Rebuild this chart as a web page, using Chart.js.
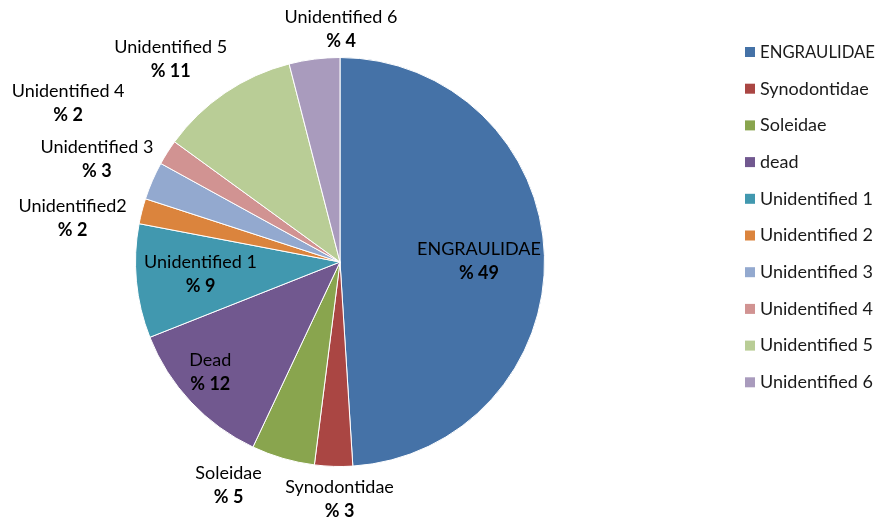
<!DOCTYPE html>
<html>
<head>
<meta charset="utf-8">
<script src="https://cdn.jsdelivr.net/npm/chart.js@4.4.1/dist/chart.umd.min.js"></script>
<style>
  html, body { margin: 0; padding: 0; background: #fff; }
  #wrap { width: 877px; height: 519px; position: relative; }
</style>
</head>
<body>
<div id="wrap"><canvas id="pie"></canvas></div>
<script>
// Slice data (percent)
const legendLabels = ['ENGRAULIDAE', 'Synodontidae', 'Soleidae', 'dead', 'Unidentified 1',
    'Unidentified 2', 'Unidentified 3', 'Unidentified 4', 'Unidentified 5', 'Unidentified 6'];
const sliceLabels = ['ENGRAULIDAE', 'Synodontidae', 'Soleidae', 'Dead', 'Unidentified 1',
    'Unidentified2', 'Unidentified 3', 'Unidentified 4', 'Unidentified 5', 'Unidentified 6'];
const percents = [49, 3, 5, 12, 9, 2, 3, 2, 11, 4];

const sliceColors = ['#4572A7', '#AA4643', '#89A54E', '#71588F', '#4198AF',
    '#DB843D', '#93A9CF', '#D19392', '#B9CD96', '#A99BBD'];

// label placement: distance along the slice middle (x radius) plus a small nudge in px
const labelDist = [0.68, 1.16, 1.2, 0.83, 0.685, 1.32, 1.29, 1.54, 1.29, 1.13];
const labelNudge = [[0, 4], [7, 0], [-43, -12], [-6, -6], [0, -1],
    [-6, 23], [-1, 2], [-6, 10], [-21, 15], [30, -4]];

const FONT = 'Lato, "Open Sans", sans-serif';

// draws the name / percent text next to each slice
const sliceLabelPlugin = {
    id: 'sliceLabels',
    afterDatasetsDraw(chart) {
        const ctx = chart.ctx;
        const arcs = chart.getDatasetMeta(0).data;
        ctx.save();
        ctx.textAlign = 'center';
        ctx.textBaseline = 'middle';
        ctx.fillStyle = '#000';
        arcs.forEach((arc, i) => {
            const mid = (arc.startAngle + arc.endAngle) / 2;
            const r = arc.outerRadius * labelDist[i];
            const x = arc.x + Math.cos(mid) * r + labelNudge[i][0];
            const y = arc.y + Math.sin(mid) * r + labelNudge[i][1];
            ctx.font = '18px ' + FONT;
            ctx.fillText(sliceLabels[i], x, y - 12);
            ctx.font = 'bold 18px ' + FONT;
            ctx.fillText('% ' + percents[i], x, y + 12);
        });
        ctx.restore();
    }
};

// legend on the right, drawn by hand so it sits where the original one does
const sideLegendPlugin = {
    id: 'sideLegend',
    afterDraw(chart) {
        const ctx = chart.ctx;
        ctx.save();
        ctx.font = '18px ' + FONT;
        ctx.textBaseline = 'middle';
        ctx.textAlign = 'left';
        legendLabels.forEach((lab, i) => {
            const y = 52 + i * 36.7;
            ctx.fillStyle = sliceColors[i];
            ctx.fillRect(745, y - 5, 10, 10);
            ctx.fillStyle = '#1a1a1a';
            // keep inside the right edge like the original
            ctx.fillText(lab, 760, y, 115);
        });
        ctx.restore();
    }
};

const canvas = document.getElementById('pie');
new Chart(canvas.getContext('2d'), {
    type: 'pie',
    data: {
        labels: legendLabels,
        datasets: [{
            data: percents,
            backgroundColor: sliceColors,
            borderColor: '#ffffff',
            borderWidth: 1
        }]
    },
    options: {
        responsive: true,
        maintainAspectRatio: false,
        animation: false,
        layout: {
            padding: { left: 135, right: 332, top: 57, bottom: 52 }
        },
        plugins: {
            legend: { display: false },
            tooltip: { enabled: false }
        }
    },
    plugins: [sliceLabelPlugin, sideLegendPlugin]
});
</script>
</body>
</html>
